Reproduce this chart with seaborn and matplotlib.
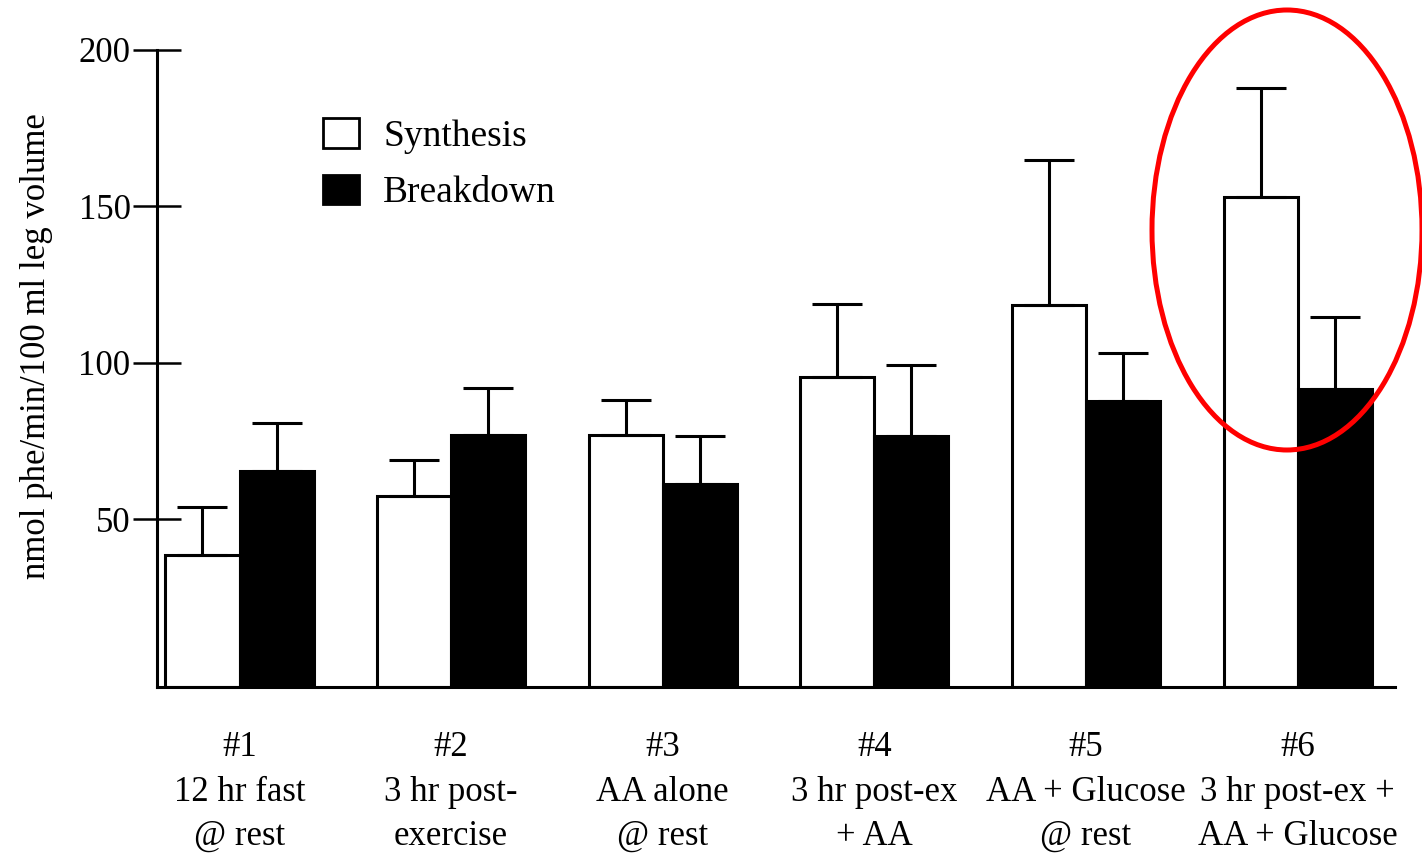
import numpy as np
import pandas as pd
import matplotlib
matplotlib.use("Agg")
import matplotlib.pyplot as plt
from matplotlib.patches import Patch, Ellipse
import seaborn as sns

# ---- data ----
categories = ["#1\n12 hr fast\n@ rest",
              "#2\n3 hr post-\nexercise",
              "#3\nAA alone\n@ rest",
              "#4\n3 hr post-ex\n+ AA",
              "#5\nAA + Glucose\n@ rest",
              "#6\n3 hr post-ex +\nAA + Glucose"]
series = ["Synthesis", "Breakdown"]
synthesis = [38.4, 57.4, 76.8, 95.5, 118.5, 153.1]
synthesis_err = [15.4, 11.5, 11.3, 23.3, 46.3, 34.7]
breakdown = [65.5, 76.9, 61.2, 76.7, 87.9, 91.5]
breakdown_err = [15.1, 15.1, 15.4, 22.6, 15.1, 23.0]
yticks = [50, 100, 150, 200]
ylabel = "nmol phe/min/100 ml leg volume"

df = pd.DataFrame({
    "condition": categories * 2,
    "series": [series[0]] * 6 + [series[1]] * 6,
    "value": synthesis + breakdown,
})

sns.set_style("white")
plt.rcParams["font.family"] = ["Liberation Serif", "DejaVu Serif"]
plt.rcParams["text.color"] = "black"
plt.rcParams["axes.labelcolor"] = "black"
plt.rcParams["xtick.color"] = "black"
plt.rcParams["ytick.color"] = "black"

fig = plt.figure(figsize=(14.22, 8.57), dpi=100)
ax = fig.add_axes([157 / 1422, 1 - 687 / 857, (1395 - 157) / 1422, (687 - 50) / 857])

ymin = -3.7
sns.barplot(data=df, x="condition", y="value", hue="series", order=categories,
            hue_order=series, palette={"Synthesis": "white", "Breakdown": "black"},
            edgecolor="black", linewidth=2.2, width=0.7, legend=False, ax=ax,
            errorbar=None)

# extend bars to the drawn baseline
for p in ax.patches:
    h = p.get_height()
    p.set_y(ymin)
    p.set_height(h - ymin)

errs = [synthesis_err, breakdown_err]
vals = [synthesis, breakdown]
for cont, v, e in zip(ax.containers, vals, errs):
    xs = [b.get_x() + b.get_width() / 2 for b in cont]
    ax.errorbar(xs, v, yerr=[np.zeros(len(e)), e], fmt="none", ecolor="black",
                elinewidth=2.2, capsize=18, capthick=2.2, zorder=1)

ax.set_ylim(ymin, 200)
ax.set_xlim(-0.39, 5.46)
ax.set_yticks(yticks)
ax.set_yticklabels([str(t) for t in yticks], fontsize=25, color="black")
ax.tick_params(axis="y", left=True, direction="inout", length=34, width=1.8,
               pad=2, color="black", labelcolor="black")
ax.tick_params(axis="x", bottom=False, length=0, pad=32, labelsize=25, labelcolor="black")
for lab in ax.get_xticklabels():
    lab.set_linespacing(1.45)
ax.set_xlabel("")
ax.set_ylabel(ylabel, fontsize=25, color="black")
ax.yaxis.set_label_coords(-0.084, 0.535)

sns.despine(ax=ax)
for s in ["left", "bottom"]:
    ax.spines[s].set_linewidth(2.2)
    ax.spines[s].set_color("black")
ax.spines["left"].set_bounds(ymin, 200)

handles = [Patch(facecolor="white", edgecolor="black", linewidth=2.0, label=series[0]),
           Patch(facecolor="black", edgecolor="black", linewidth=2.0, label=series[1])]
fig.legend(handles=handles, loc="upper left", bbox_to_anchor=(323 / 1422, 1 - 118 / 857),
           frameon=False, fontsize=27, handlelength=0.95, handleheight=0.85,
           handletextpad=0.65, labelspacing=0.55, borderpad=0, borderaxespad=0,
           labelcolor="black")

ell = Ellipse((1287 / 1422, 1 - 230 / 857), 270 / 1422, 440 / 857,
              transform=fig.transFigure, fill=False, edgecolor="red", linewidth=3.6)
fig.add_artist(ell)

fig.savefig("out.png", dpi=100)
